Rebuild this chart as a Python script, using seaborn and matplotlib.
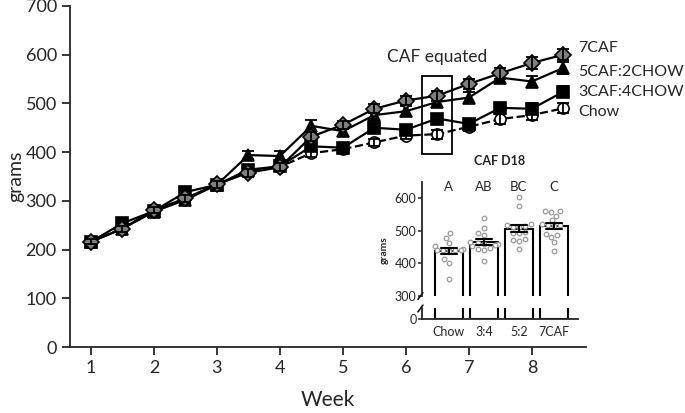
import numpy as np
import pandas as pd
import matplotlib
matplotlib.use('Agg')
import matplotlib.pyplot as plt
import seaborn as sns
from matplotlib.patches import Rectangle

# weekly body weights (mean and SEM), half-week sampling
weeks = [1, 1.5, 2, 2.5, 3, 3.5, 4, 4.5, 5, 5.5, 6, 6.5, 7, 7.5, 8, 8.5]
caf7 = [216, 243, 281, 305, 334, 358, 369, 432, 456, 489, 506, 516, 540, 562, 583, 600]
caf5 = [216, 243, 278, 302, 333, 394, 392, 454, 443, 476, 484, 503, 512, 553, 545, 573]
caf3 = [216, 254, 279, 318, 333, 364, 371, 412, 409, 450, 446, 469, 458, 491, 489, 524]
chow = [216, 244, 279, 305, 333, 360, 370, 398, 406, 420, 434, 437, 452, 468, 476, 490]
sem7 = [5, 6, 6, 7, 7, 8, 8, 9, 8, 9, 10, 10, 10, 11, 12, 11]
sem5 = [5, 6, 6, 7, 7, 9, 10, 11, 9, 9, 10, 10, 11, 12, 12, 12]
sem3 = [5, 6, 6, 7, 7, 8, 8, 9, 8, 9, 9, 9, 9, 10, 11, 11]
semc = [5, 6, 6, 6, 7, 7, 8, 8, 7, 8, 8, 9, 9, 10, 10, 10]
labels = ['7CAF', '5CAF:2CHOW', '3CAF:4CHOW', 'Chow']
label_y = [614, 565, 524, 483]

# inset: individual weights at CAF day 18
groups = ['Chow', '3:4', '5:2', '7CAF']
d18_chow = [492, 479, 463, 454, 443, 441, 440, 438, 442, 441, 412, 400, 352]
d18_34 = [540, 507, 493, 488, 462, 458, 460, 456, 452, 464, 444, 442, 446, 407]
d18_52 = [602, 576, 519, 514, 512, 516, 510, 496, 493, 492, 473, 468, 472, 445]
d18_7 = [561, 558, 560, 546, 532, 520, 518, 517, 515, 490, 488, 482, 466, 438]
letters = ['A', 'AB', 'BC', 'C']

sns.set_style('ticks')
plt.rcParams['font.family'] = ['Lato', 'DejaVu Sans']

fig = plt.figure(figsize=(6.85, 4.13), dpi=100)
ax = fig.add_axes([70/685, 66/413, 516/685, 341/413])

series = [
    (chow, semc, 'o', 'white', 8, '--', 1),
    (caf3, sem3, 's', 'black', 8, '-', 2),
    (caf5, sem5, '^', 'black', 9, '-', 3),
    (caf7, sem7, 'D', '#7f7f7f', 8.5, '-', 4),
]
for vals, sem, mk, fc, ms, ls, z in series:
    sns.lineplot(x=weeks, y=vals, ax=ax, color='black', linewidth=1.6,
                 linestyle=ls, marker=mk, markersize=ms, markerfacecolor=fc,
                 markeredgecolor='black', markeredgewidth=1.2, zorder=z)
    ax.errorbar(weeks, vals, yerr=sem, fmt='none', ecolor='black', capsize=4,
                elinewidth=1.3, capthick=1.3, zorder=z + 0.5)

for lab, yy in zip(labels, label_y):
    ax.text(8.74, yy, lab, fontsize=11.5, va='center', ha='left', clip_on=False)

ax.add_patch(Rectangle((6.25, 396), 0.48, 160, fill=False, edgecolor='black',
                       linewidth=1.3, zorder=6))
ax.text(6.5, 595, 'CAF equated', fontsize=12.5, ha='center', va='center')

ax.set_xlim(0.667, 8.86)
ax.set_ylim(0, 700)
ax.set_xticks(range(1, 9))
ax.set_yticks(range(0, 701, 100))
ax.tick_params(labelsize=13, length=6, width=1.3, direction='out')
for s in ['top', 'right']:
    ax.spines[s].set_visible(False)
for s in ['left', 'bottom']:
    ax.spines[s].set_linewidth(1.3)
ax.set_xlabel('Week', fontsize=15, labelpad=10)
ax.set_ylabel('grams', fontsize=14)
ax.yaxis.set_label_coords(-0.088, 0.5)

# inset bar chart with broken y axis
df_in = pd.DataFrame({
    'group': ['Chow'] * len(d18_chow) + ['3:4'] * len(d18_34)
             + ['5:2'] * len(d18_52) + ['7CAF'] * len(d18_7),
    'grams': d18_chow + d18_34 + d18_52 + d18_7,
})
ax_up = fig.add_axes([422/685, 117/413, 156/685, 114/413])
ax_lo = fig.add_axes([422/685, 94/413, 156/685, 11/413])

sns.barplot(data=df_in, x='group', y='grams', order=groups, ax=ax_up,
            errorbar='se', capsize=0.45, color='white', saturation=1,
            edgecolor='black', linewidth=1.5, width=0.8,
            err_kws={'color': 'black', 'linewidth': 1.5})
sns.swarmplot(data=df_in, x='group', y='grams', order=groups, ax=ax_up,
              color='white', edgecolor='#9a9a9a', linewidth=0.9, size=3.3)
for ln in ax_up.lines:
    ln.set_zorder(5)
sns.barplot(data=df_in, x='group', y='grams', order=groups, ax=ax_lo,
            errorbar=None, color='white', saturation=1,
            edgecolor='black', linewidth=1.5, width=0.8)

for i, l in enumerate(letters):
    ax_up.text(i, 633, l, fontsize=9.5, ha='center', va='center', clip_on=False)

ax_up.set_ylim(300, 649)
ax_up.set_yticks([300, 400, 500, 600])
ax_lo.set_ylim(0, 30)
ax_lo.set_yticks([0])
for a in (ax_up, ax_lo):
    a.set_xlim(-0.77, 3.69)
    a.patch.set_alpha(0)
    a.spines['right'].set_visible(False)
    a.spines['left'].set_linewidth(1.3)
    a.tick_params(axis='y', labelsize=9, length=3, width=1.1, pad=1)
    a.set_xlabel('')
    a.set_ylabel('')
ax_up.spines['top'].set_visible(False)
ax_up.spines['bottom'].set_visible(False)
ax_up.set_xticks([])
ax_lo.spines['top'].set_visible(False)
ax_lo.spines['bottom'].set_linewidth(1.3)
ax_lo.tick_params(axis='x', labelsize=9, length=0, pad=5)

ax_up.plot([-0.026, 0.006], [-0.03, 0.03], transform=ax_up.transAxes,
           color='black', linewidth=1.1, clip_on=False)
ax_lo.plot([-0.026, 0.006], [0.64, 1.27], transform=ax_lo.transAxes,
           color='black', linewidth=1.1, clip_on=False)

ax_up.set_title('CAF D18', fontsize=9, fontweight='bold', pad=12)
fig.text(384/685, 1 - 250/413, 'grams', fontsize=7.5, fontweight='bold',
         rotation=90, ha='center', va='center')

fig.savefig('out.png', dpi=100)
